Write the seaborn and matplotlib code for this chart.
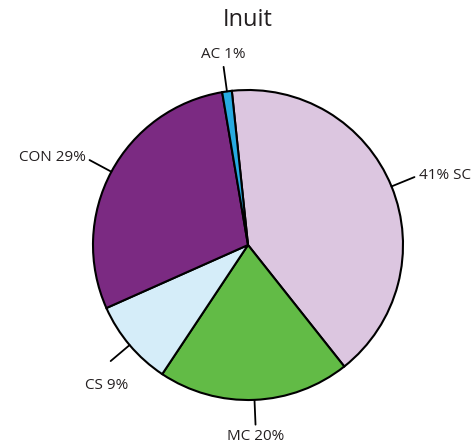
import numpy as np
import matplotlib
matplotlib.use("Agg")
import matplotlib.pyplot as plt
import seaborn as sns

# slices, clockwise from the top
groups = ["SC", "MC", "CS", "CON", "AC"]
shares = [41, 20, 9, 29, 1]
labels = ["41% SC", "MC 20%", "CS 9%", "CON 29%", "AC 1%"]
colors = ["#dcc6e0", "#62bb46", "#d5edf9", "#7b2a82", "#27aae1"]

sns.set_theme(style="white")
plt.rcParams['font.family'] = ['Open Sans', 'DejaVu Sans']

fig = plt.figure(figsize=(4.71, 4.45), dpi=100)
ax = fig.add_axes([0, 0, 1, 1])
wedges, _ = ax.pie(shares, colors=colors, startangle=96, counterclock=False,
                   radius=1, center=(0, 0),
                   wedgeprops=dict(edgecolor="black", linewidth=1.5))

for w, lab in zip(wedges, labels):
    ang = np.deg2rad((w.theta1 + w.theta2) / 2)
    c, s = np.cos(ang), np.sin(ang)
    ax.plot([c, 1.16 * c], [s, 1.16 * s], color="black", lw=1.3)
    ha = "center"
    if c > 0.3:
        ha = "left"
    elif c < -0.3:
        ha = "right"
    va = "center"
    if s > 0.9:
        va = "bottom"
    elif s < -0.9:
        va = "top"
    if -0.9 < s < -0.5:
        va = "top"
        ha = "center"
        c, s = c * 1.0, s * 1.12
    ax.text(1.19 * c, 1.19 * s, lab, ha=ha, va=va, fontsize=11, color="#231f20")

ax.set_xlim(-248 / 155, (471 - 248) / 155)
ax.set_ylim(-200 / 155, 245 / 155)
ax.set_aspect("equal")
ax.axis("off")

fig.text(248 / 471, 1 - 20 / 445, "Inuit", ha="center", va="center", fontsize=17, color="#231f20")

fig.savefig("out.png", dpi=100)
